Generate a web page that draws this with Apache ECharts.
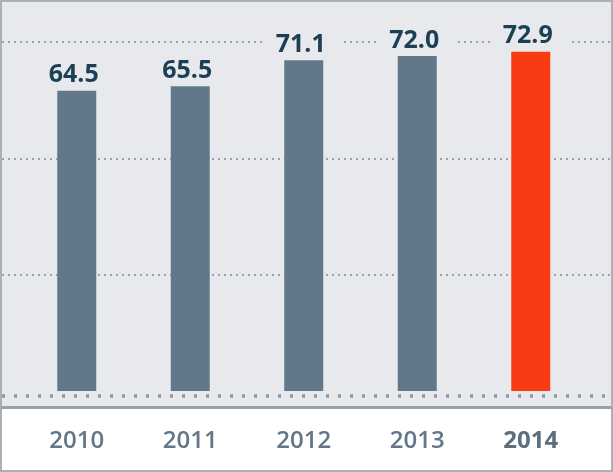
<!DOCTYPE html>
<html>
<head>
<meta charset="utf-8">
<script src="https://cdn.jsdelivr.net/npm/echarts@6/dist/echarts.min.js"></script>
<style>
  html, body { margin: 0; padding: 0; background: #ffffff; }
  #panel { position: absolute; left: 0; top: 0; width: 613px; height: 409px; box-sizing: border-box;
           background: #e8e9ed; border: 2px solid #a9b0b8; border-bottom: 3px solid #98a2ac; }
  #foot { position: absolute; left: 0; top: 409px; width: 613px; height: 63px; box-sizing: border-box;
          background: #ffffff; border: 2px solid #a9b0b8; border-top: none; }
  #chart { position: absolute; left: 0; top: 0; width: 613px; height: 472px; }
</style>
</head>
<body>
<div id="panel"></div>
<div id="foot"></div>
<div id="chart"></div>
<script>
const years = ['2010', '2011', '2012', '2013', '2014'];
const values = [64.5, 65.5, 71.1, 72.0, 72.9];
const highlightYear = '2014';
const yMin = 0, yMax = 75, yStep = 25;

const barColor = '#627888';
const hiColor = '#f93b14';
const panelBg = '#e8e9ed';
const font = '"Open Sans", "Noto Sans", sans-serif';

const chart = echarts.init(document.getElementById('chart'), null, { renderer: 'canvas' });
chart.setOption({
  backgroundColor: 'transparent',
  animation: false,
  grid: [
    { left: 2, right: 2, top: 42, bottom: 81 },
    { left: 20, right: 25.5, top: 42, bottom: 81 }
  ],
  xAxis: [
    {
      gridIndex: 0, type: 'category', data: years, offset: 5, position: 'bottom',
      axisLine: { show: true, onZero: false, lineStyle: { color: '#8e98a3', width: 3.5, type: [3, 9], cap: 'butt' } },
      axisTick: { show: false }, axisLabel: { show: false }, splitLine: { show: false }
    },
    {
      gridIndex: 1, type: 'category', data: years,
      axisLine: { show: false }, axisTick: { show: false },
      axisLabel: {
        margin: 38,
        formatter: v => v === highlightYear ? '{b|' + v + '}' : '{n|' + v + '}',
        rich: {
          n: { fontFamily: font, fontSize: 24, fontWeight: 600, color: '#62778a' },
          b: { fontFamily: font, fontSize: 24, fontWeight: 'bold', color: '#5a6f80' }
        }
      }
    }
  ],
  yAxis: [
    {
      gridIndex: 0, type: 'value', min: yMin, max: yMax, interval: yStep,
      axisLine: { show: false }, axisTick: { show: false }, axisLabel: { show: false },
      splitLine: { show: true, showMinLine: false, lineStyle: { color: '#9aa3ad', width: 2, type: [2, 4] } }
    },
    {
      gridIndex: 1, type: 'value', min: yMin, max: yMax, interval: yStep, show: false,
      splitLine: { show: false }
    }
  ],
  series: [{
    type: 'bar',
    xAxisIndex: 1, yAxisIndex: 1,
    barWidth: 39,
    data: values.map((v, i) => ({
      value: v,
      itemStyle: { color: years[i] === highlightYear ? hiColor : barColor }
    })),
    label: {
      show: true, position: 'top', distance: 3,
      formatter: p => p.value.toFixed(1),
      fontFamily: font, fontSize: 25, fontWeight: 'bold', color: '#1b3f54',
      backgroundColor: panelBg, padding: [0, 18, 0, 12]
    }
  }]
});
</script>
</body>
</html>
